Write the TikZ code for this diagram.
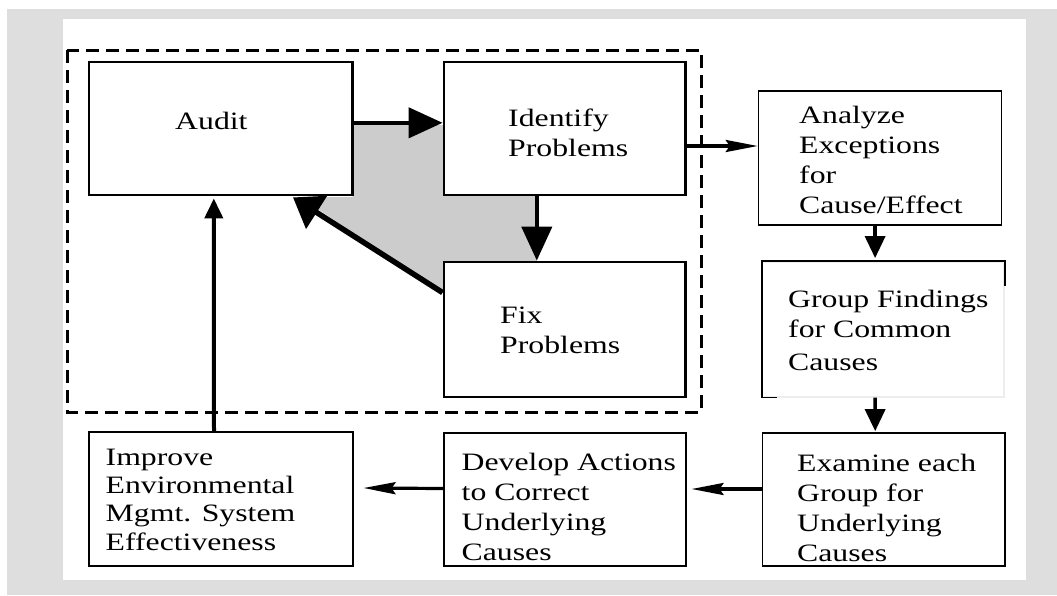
\documentclass[tikz,border=0pt]{standalone}
\usepackage{fontspec}
\setmainfont{Liberation Serif}[FakeStretch=1.27]
\usetikzlibrary{arrows.meta,calc}
\tikzset{
  >=Triangle,
}
\tikzstyle{bigbox}=[draw,line width=2.8pt,minimum height=133pt]
\tikzstyle{smallbox}=[draw,line width=1.7pt,minimum height=134pt]
\tikzstyle{boxtext}=[anchor=base west,align=left,inner sep=0pt,font=\fontsize{25}{30}\selectfont]
\tikzstyle{heavy}=[line width=4.3pt,-{Triangle[length=34pt,width=30pt]}]
\tikzstyle{backarrow}=[line width=5.5pt,-{Triangle[length=28pt,width=38pt]}]
\tikzstyle{uparrow}=[line width=4pt,-{Triangle[length=20pt,width=18pt]}]
\tikzstyle{thinarrow}=[line width=3.2pt,-{Stealth[length=32pt,width=12pt,inset=4pt]}]
\tikzstyle{downarrow}=[line width=3.5pt,-{Triangle[length=22pt,width=20pt]}]

\begin{document}
\begin{tikzpicture}[x=1pt,y=-1pt]
    \useasboundingbox (0,0) rectangle (1057,595);
    \fill[black!13] (7,9) rectangle (1057,595);
    \fill[white] (63,19) rectangle (1026,580);
    \fill[black!20] (352.7,125) -- (443,125) -- (443,195) -- (537,195) -- (537,262)
      -- (443,262) -- (443,293) -- (300,197) -- (352.7,197) -- cycle;
    \draw[line width=3pt,dash pattern=on 13pt off 7pt] (67,50) rectangle (701,412);

    \node[bigbox,minimum width=263.6pt] (audit) at (220.8,128.5) {};
    \node[bigbox,minimum width=241.6pt] (identify) at (564.8,128.5) {};
    \node[bigbox,minimum width=241.6pt,minimum height=135pt] (fix) at (564.8,329.5) {};
    \node[smallbox,minimum width=243pt] (analyze) at (880.1,158) {};
    \node[smallbox,draw=black!7,minimum width=241.4pt,minimum height=134.7pt] (group) at (883.3,329.3) {};
    \node[smallbox,minimum width=242.4pt,minimum height=133pt] (examine) at (883.8,499.5) {};
    \node[smallbox,minimum width=242pt,minimum height=133pt] (develop) at (565,499.5) {};
    \node[smallbox,minimum width=264pt] (improve) at (221,499) {};
    \draw[line width=1.7pt] ([yshift=-25pt]group.north east) -- (group.north east) -- (group.north west)
      -- (group.south west) -- ([xshift=15pt]group.south west);

    \node[boxtext] (audit-t) at (175,129.3) {Audit};
    \node[boxtext] (identify-t) at (508,156.7) {Identify\\Problems};
    \node[boxtext] (fix-t) at (500,353.3) {Fix\\Problems};
    \node[boxtext] (analyze-t) at (799,213) {Analyze\\Exceptions\\for\\Cause/Effect};
    \node[boxtext] (group-t) at (788,370.5) {Group Findings\\for Common\\[3pt]Causes};
    \node[boxtext] (examine-t) at (797,561) {Examine each\\Group for\\Underlying\\Causes};
    \node[boxtext] (develop-t) at (461.5,560) {Develop Actions\\to Correct\\Underlying\\Causes};
    \node[boxtext,font=\fontsize{25}{28.3}\selectfont] (improve-t) at (105.5,550)
      {Improve\\Environmental\\Mgmt. System\\Effectiveness};

    \draw[heavy] ([yshift=5.7pt]audit.east) -- ([yshift=5.7pt]identify.west);
    \draw[heavy] ([xshift=-28pt]identify.south) -- ([xshift=-28pt]fix.north);
    \draw[backarrow] ($(fix.north west)+(0,32)$) -- ($(audit.south east)+(-61,1)$);
    \draw[uparrow] ([xshift=-7pt]improve.north) -- ([xshift=-7pt,yshift=-2pt]audit.south);
    \draw[thinarrow] ([yshift=-17.5pt]identify.east) -- ([yshift=-17.5pt]identify.east -| analyze.west);
    \draw[downarrow] ([xshift=-5pt]analyze.south) -- ([xshift=-8.2pt,yshift=3pt]group.north);
    \draw[downarrow] ([xshift=-8.2pt]group.south) -- ([xshift=-8.6pt,yshift=1pt]examine.north);
    \draw[thinarrow] ([yshift=10.5pt]examine.west) -- ([xshift=4.7pt,yshift=10.5pt]develop.east);
    \draw[thinarrow] ([yshift=11pt]develop.west) -- ([xshift=9.7pt,yshift=11pt]improve.east);
\end{tikzpicture}
\end{document}
